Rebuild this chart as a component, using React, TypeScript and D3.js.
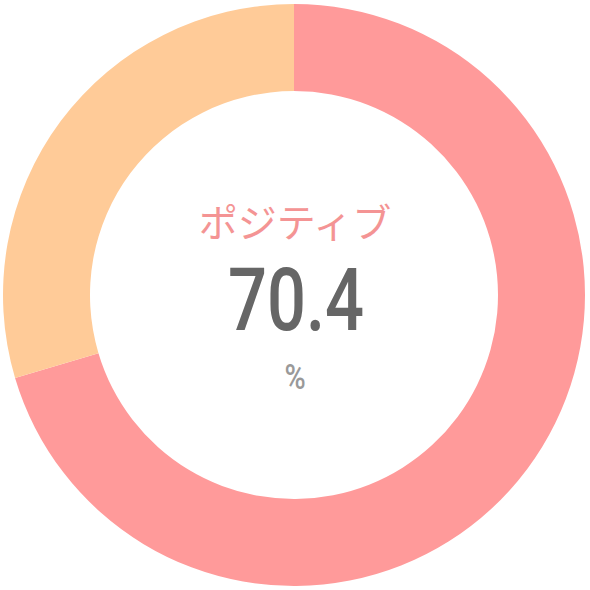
import React, { useEffect, useRef } from 'react';
import * as d3 from 'd3';

const labels = ['ポジティブ', 'その他'];
const values = [70.4, 29.6];
const colors = ['#FF9A9A', '#FFCB98'];
const centerLabel = 'ポジティブ';
const centerValue = '70.4';
const unit = '%';

const W = 590;
const H = 590;

const App: React.FC = () => {
  const svgRef = useRef<SVGSVGElement>(null);

  useEffect(() => {
    if (!svgRef.current) return;
    const svg = d3.select(svgRef.current);
    svg.selectAll('*').remove();

    const cx = 294;
    const cy = 295;
    const outer = 291;
    const inner = 204;

    const pie = d3.pie<number>().sort(null).value(d => d);
    const arc = d3.arc<d3.PieArcDatum<number>>().innerRadius(inner).outerRadius(outer);

    const g = svg.append('g').attr('transform', `translate(${cx},${cy})`);

    g.selectAll('path')
      .data(pie(values))
      .join('path')
      .attr('d', arc)
      .attr('fill', (_, i) => colors[i])
      .append('title')
      .text((d, i) => `${labels[i]}: ${d.data}`);

    g.append('text')
      .attr('x', 1)
      .attr('y', -58)
      .attr('text-anchor', 'middle')
      .attr('font-family', '"Noto Sans CJK JP", sans-serif')
      .attr('font-size', 39)
      .attr('fill', '#F49494')
      .text(centerLabel);

    g.append('text')
      .attr('transform', 'translate(2,35) scale(0.78,1)')
      .attr('text-anchor', 'middle')
      .attr('font-family', 'Roboto, sans-serif')
      .attr('font-weight', 500)
      .attr('font-size', 88)
      .attr('fill', '#666666')
      .text(centerValue);

    g.append('text')
      .attr('transform', 'translate(1,94) scale(0.8,1)')
      .attr('text-anchor', 'middle')
      .attr('font-family', 'Roboto, sans-serif')
      .attr('font-weight', 500)
      .attr('font-size', 36)
      .attr('fill', '#999999')
      .text(unit);
  }, []);

  return (
    <div style={{ position: 'absolute', left: 0, top: 0, width: W, height: H, background: '#fff' }}>
      <svg ref={svgRef} width={W} height={H} />
    </div>
  );
};

export default App;
